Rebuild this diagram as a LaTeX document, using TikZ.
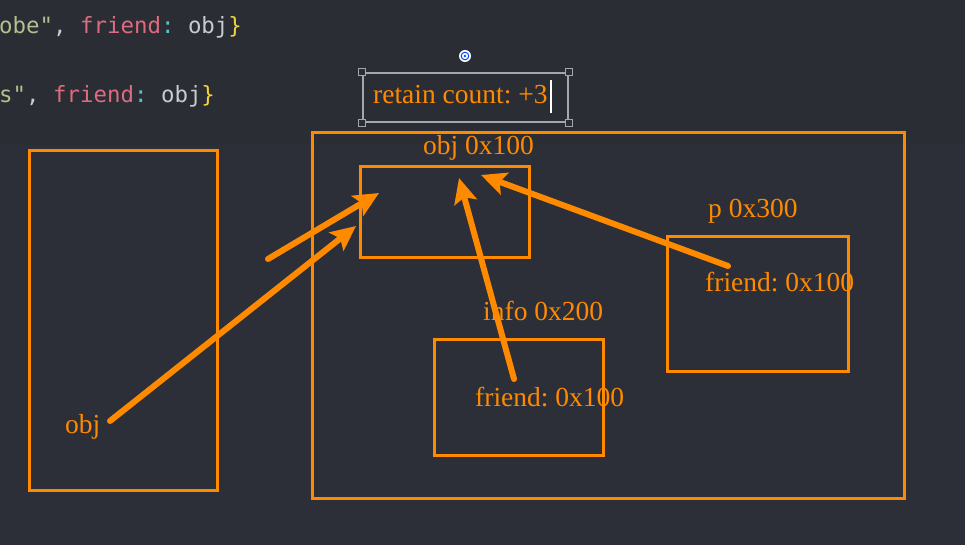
\documentclass[tikz,border=0pt]{standalone}
\usepackage{fontspec}
\setmainfont{Liberation Serif}
\newfontfamily\codefont{DejaVu Sans Mono}
\usetikzlibrary{arrows.meta}
\frenchspacing
\definecolor{bgtop}{HTML}{2B2D34}
\definecolor{bgmain}{HTML}{2C2F38}
\definecolor{org}{HTML}{FF8A00}
\definecolor{strc}{HTML}{B4C08E}
\definecolor{keyc}{HTML}{DE6B7E}
\definecolor{colc}{HTML}{5CC0C8}
\definecolor{idc}{HTML}{C9CBD0}
\definecolor{brc}{HTML}{F2D33A}
\definecolor{selc}{HTML}{A3A6AD}
\tikzset{
  box/.style={draw=org, line width=3bp, inner sep=0pt, outer sep=0pt},
  lbl/.style={text=org, anchor=base west, inner sep=0pt, font=\fontsize{27.5bp}{30bp}\selectfont\frenchspacing},
  codeline/.style={anchor=base west, inner sep=0pt, font=\codefont\fontsize{22.4bp}{26bp}\selectfont},
  arr/.style={draw=org, line width=6bp, line cap=round, -{Stealth[length=25bp,width=23bp,inset=5bp]}},
  handle/.style={draw=selc, fill=bgtop, line width=1.2bp, minimum size=7bp, inner sep=0pt},
}
\begin{document}
\begin{tikzpicture}[x=1bp,y=-1bp]
\fill[bgmain] (0,0) rectangle (965,545);
\fill[bgtop] (0,0) rectangle (965,145);
\useasboundingbox (0,0) rectangle (965,545);

% code lines
\node[codeline] (code1) at (-1,34) {\textcolor{strc}{obe"}\textcolor{idc}{,\ }\textcolor{keyc}{friend}\textcolor{colc}{:}\textcolor{idc}{\ obj}\textcolor{brc}{\}}};
\node[codeline] (code2) at (-1,103) {\textcolor{strc}{s"}\textcolor{idc}{,\ }\textcolor{keyc}{friend}\textcolor{colc}{:}\textcolor{idc}{\ obj}\textcolor{brc}{\}}};

% boxes
\node[box, minimum width=187bp, minimum height=339bp] (stack) at (123.5,320.5) {};
\node[box, minimum width=592bp, minimum height=365bp] (heap) at (608,315.5) {};
\node[box, minimum width=169bp, minimum height=91bp] (objbox) at (444.5,212.5) {};
\node[box, minimum width=181bp, minimum height=134bp] (pbox) at (757.5,304) {};
\node[box, minimum width=169bp, minimum height=115bp] (infobox) at (518.5,397.5) {};

% labels
\node[lbl] (objlbl) at (423,155) {obj 0x100};
\node[lbl] (plbl) at (708,218) {p 0x300};
\node[lbl] (pfriend) at (705,292) {friend: 0x100};
\node[lbl] (infolbl) at (483,321) {info 0x200};
\node[lbl] (infofriend) at (475,406) {friend: 0x100};
\node[lbl] (objvar) at (65,433) {obj};

% retain count text box (selected)
\node[draw=selc, line width=1.3bp, minimum width=205bp, minimum height=49bp, inner sep=0pt] (rcbox) at (465.5,97.5) {};
\node[lbl] (rc) at (373,104) {retain count: +3};
\draw[white, line width=1.2bp] (551,80) -- (551,113);
\foreach \c in {north west, north east, south west, south east}
  \node[handle] at (rcbox.\c) {};
\node[circle, fill=white, minimum size=12bp, inner sep=0pt] (rot) at (465,56) {};
\draw[blue!70!cyan, line width=1bp] (rot.center) circle (3.8bp);
\fill[blue!70!cyan] (rot.center) circle (1.3bp);

% arrow coordinates
\coordinate (s1) at (110,421);
\coordinate (t1) at (356,226);
\coordinate (s2) at (268,259);
\coordinate (t2) at (379,193);
\coordinate (s3) at (514,379);
\coordinate (t3) at (459,178);
\coordinate (s4) at (728,266);
\coordinate (t4) at (481,175);

\draw[arr] (s1) -- (t1);
\draw[arr] (s2) -- (t2);
\draw[arr] (s3) -- (t3);
\draw[arr] (s4) -- (t4);
\end{tikzpicture}
\end{document}
